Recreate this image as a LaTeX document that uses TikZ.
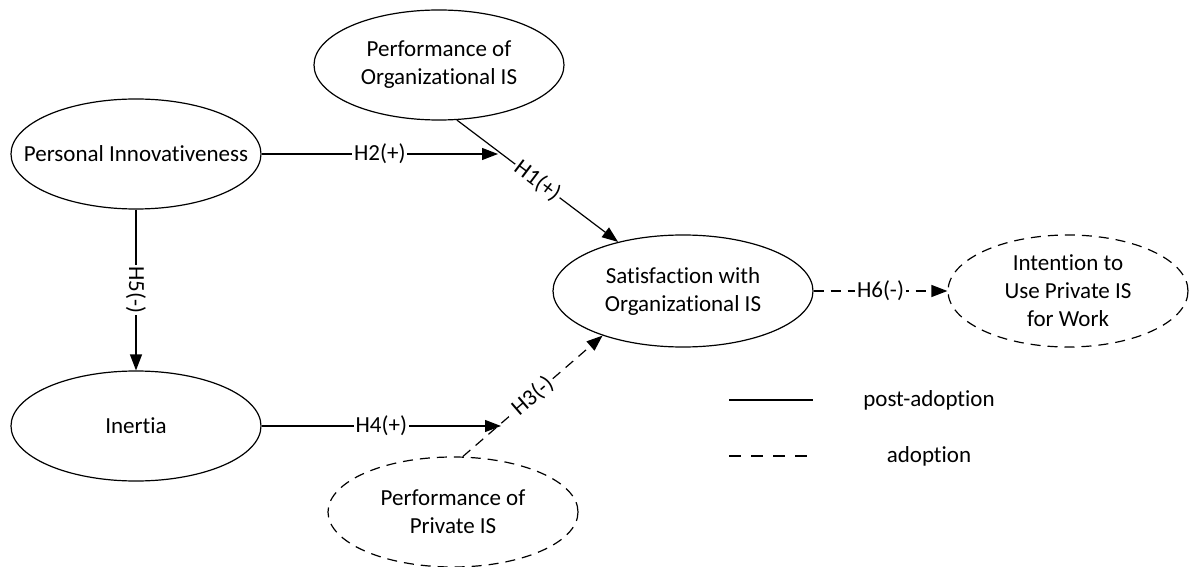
\documentclass[tikz,border=0pt]{standalone}
\usepackage{fontspec}
\setmainfont{Carlito}[Ligatures=NoCommon]
\usetikzlibrary{arrows.meta}
\usetikzlibrary{shapes.geometric}
\usetikzlibrary{positioning}

\begin{document}
\begin{tikzpicture}[x=0.5pt, y=-0.5pt, font=\fontsize{11.5}{14}\selectfont,
    construct/.style = {ellipse, draw, line width=0.6pt, minimum width=125pt, minimum height=55pt, inner sep=-14pt, align=center},
    newcon/.style = {construct, dash pattern=on 5pt off 3.5pt},
    hpath/.style = {draw, line width=0.6pt, -{Triangle[length=8pt,width=6pt]}},
    newpath/.style = {hpath, dash pattern=on 5pt off 3.5pt},
    hyp/.style = {fill=white, inner sep=1pt, pos=0.5}]
    \useasboundingbox (0,0) rectangle (1190,567);

    % constructs
    \node[construct] (poi) at (439,65) {Performance of\\Organizational IS};
    \node[construct] (pi) at (136,154) {Personal Innovativeness};
    \node[construct] (ine) at (136,426) {Inertia};
    \node[construct, minimum width=130pt, minimum height=56pt] (sat) at (683,291) {Satisfaction with\\Organizational IS};
    \node[newcon, minimum width=120pt, minimum height=56pt] (int) at (1068,291) {Intention to\\Use Private IS\\for Work};
    \node[newcon] (pp) at (453,512) {Performance of\\Private IS};

    % moderation points
    \coordinate (j1) at (498,154);
    \coordinate (j3) at (501,426);

    % hypotheses
    \draw[hpath] (poi.-72) -- node[hyp, sloped] {H1(+)} (sat);
    \draw[hpath] (pi) -- node[hyp] {H2(+)} (j1);
    \draw[newpath] (pp.80) -- node[hyp, sloped] {H3(-)} (sat.-151);
    \draw[hpath] (ine) -- node[hyp] {H4(+)} (j3);
    \draw[hpath] (pi) -- node[hyp, sloped] {H5(-)} (ine);
    \draw[newpath] (sat) -- node[hyp] {H6(-)} (int);

    % legend
    \coordinate (la) at (729,400);
    \coordinate (lb) at (813,400);
    \coordinate (lc) at (729,456);
    \coordinate (ld) at (813,456);
    \draw[line width=0.6pt] (la) -- (lb);
    \draw[line width=0.6pt, dash pattern=on 6pt off 5pt] (lc) -- (ld);
    \node (lpost) at (929,400) {post-adoption};
    \node (ladop) at (929,456) {adoption};
\end{tikzpicture}
\end{document}
